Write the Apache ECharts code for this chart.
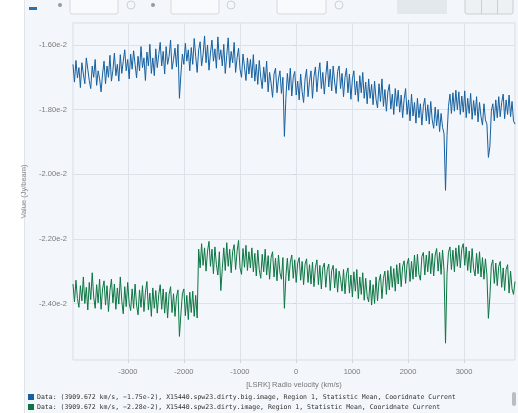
<!DOCTYPE html>
<html>
<head>
<meta charset="utf-8">
<script src="https://cdn.jsdelivr.net/npm/echarts@6/dist/echarts.min.js"></script>
<style>
html,body{margin:0;padding:0;background:#fff;}
#c{width:518px;height:413px;}
</style>
</head>
<body>
<div id="c"></div>
<script>
// Velocity range of the spectrum (km/s)
const velStart = -3980;
const velEnd = 3910;

// Tick values
const xTicks = [-3000, -2000, -1000, 0, 1000, 2000, 3000];
const yTicks = [-0.024, -0.022, -0.020, -0.018, -0.016];

// Legend texts
const legendTexts = [
  "Data: (3909.672 km/s, \u22121.75e-2), X15440.spw23.dirty.big.image, Region 1, Statistic Mean, Cooridnate Current",
  "Data: (3909.672 km/s, \u22122.28e-2), X15440.spw23.dirty.image, Region 1, Statistic Mean, Cooridnate Current"
];

// Values are in units of 1e-5 Jy/beam
const UNIT = 1e-5;

// Blue series: X15440.spw23.dirty.big.image
const bigImage = [
-1660,-1715,-1648,-1702,-1670,-1732,-1655,-1690,-1720,-1640,-1675,-1710,-1735,-1665,-1700,-1645,-1725,-1680,-1705,-1745,
-1690,-1650,-1720,-1665,-1700,-1632,-1712,-1678,-1625,-1695,-1660,-1712,-1630,-1688,-1650,-1615,-1680,-1645,-1705,-1628,
-1675,-1618,-1660,-1702,-1635,-1680,-1605,-1670,-1640,-1710,-1622,-1665,-1598,-1688,-1640,-1695,-1612,-1670,-1630,-1592,
-1665,-1620,-1690,-1605,-1660,-1635,-1585,-1675,-1645,-1610,-1668,-1598,-1765,-1690,-1628,-1660,-1595,-1650,-1615,-1680,
-1608,-1660,-1580,-1635,-1685,-1615,-1590,-1665,-1630,-1572,-1655,-1600,-1678,-1625,-1585,-1650,-1612,-1672,-1575,-1645,
-1615,-1665,-1598,-1688,-1632,-1578,-1670,-1620,-1655,-1592,-1685,-1640,-1610,-1675,-1700,-1628,-1668,-1710,-1640,-1690,
-1645,-1702,-1630,-1712,-1660,-1722,-1648,-1700,-1735,-1668,-1715,-1650,-1745,-1685,-1718,-1762,-1690,-1672,-1748,-1705,
-1680,-1750,-1700,-1883,-1765,-1688,-1740,-1672,-1758,-1700,-1682,-1755,-1712,-1770,-1690,-1745,-1778,-1705,-1675,-1760,
-1712,-1680,-1765,-1698,-1668,-1745,-1690,-1655,-1735,-1685,-1752,-1695,-1650,-1730,-1675,-1742,-1665,-1715,-1750,-1682,
-1665,-1735,-1688,-1760,-1700,-1672,-1748,-1690,-1768,-1705,-1680,-1755,-1712,-1775,-1695,-1748,-1685,-1765,-1715,-1782,
-1705,-1765,-1722,-1785,-1712,-1768,-1795,-1720,-1775,-1705,-1790,-1738,-1805,-1745,-1722,-1798,-1752,-1815,-1735,-1790,
-1740,-1808,-1755,-1825,-1768,-1735,-1815,-1770,-1835,-1752,-1820,-1778,-1842,-1765,-1825,-1782,-1848,-1790,-1765,-1835,
-1785,-1845,-1775,-1832,-1858,-1792,-1850,-1800,-1868,-1812,-1855,-1875,-2050,-1880,-1790,-1752,-1812,-1748,-1805,-1740,
-1800,-1745,-1815,-1758,-1808,-1742,-1825,-1765,-1812,-1750,-1830,-1772,-1818,-1760,-1838,-1778,-1822,-1848,-1782,-1832,
-1845,-1948,-1915,-1805,-1782,-1835,-1770,-1825,-1760,-1822,-1778,-1752,-1828,-1770,-1815,-1755,-1822,-1775,-1835,-1845
];

// Green series: X15440.spw23.dirty.image
const dirtyImage = [
-2340,-2395,-2328,-2385,-2412,-2345,-2392,-2318,-2400,-2350,-2420,-2335,-2388,-2305,-2380,-2415,-2342,-2398,-2325,-2418,
-2355,-2330,-2405,-2345,-2425,-2360,-2325,-2398,-2340,-2418,-2352,-2402,-2318,-2392,-2432,-2348,-2410,-2335,-2400,-2422,
-2355,-2415,-2340,-2405,-2435,-2358,-2412,-2345,-2425,-2365,-2332,-2420,-2368,-2440,-2352,-2415,-2360,-2430,-2372,-2342,
-2418,-2355,-2430,-2365,-2445,-2372,-2348,-2428,-2370,-2440,-2380,-2358,-2502,-2432,-2370,-2355,-2438,-2375,-2450,-2365,
-2428,-2362,-2440,-2375,-2445,-2232,-2290,-2215,-2282,-2228,-2300,-2238,-2208,-2285,-2232,-2308,-2225,-2280,-2312,-2240,
-2360,-2292,-2228,-2298,-2212,-2285,-2232,-2305,-2240,-2218,-2295,-2238,-2205,-2290,-2310,-2230,-2288,-2220,-2298,-2240,
-2290,-2228,-2302,-2245,-2315,-2235,-2295,-2322,-2248,-2302,-2232,-2312,-2252,-2325,-2258,-2240,-2318,-2260,-2330,-2250,
-2305,-2325,-2258,-2415,-2318,-2260,-2330,-2272,-2250,-2322,-2265,-2335,-2275,-2258,-2328,-2270,-2342,-2278,-2262,-2335,
-2280,-2340,-2272,-2348,-2288,-2265,-2342,-2282,-2355,-2290,-2275,-2350,-2295,-2278,-2360,-2298,-2282,-2352,-2292,-2365,
-2300,-2325,-2362,-2295,-2370,-2308,-2290,-2368,-2312,-2380,-2302,-2362,-2295,-2385,-2318,-2372,-2305,-2390,-2322,-2378,
-2395,-2328,-2405,-2342,-2400,-2318,-2392,-2332,-2310,-2385,-2322,-2300,-2372,-2298,-2358,-2285,-2350,-2292,-2362,-2280,
-2340,-2275,-2348,-2285,-2268,-2338,-2278,-2260,-2332,-2270,-2325,-2250,-2318,-2248,-2310,-2328,-2255,-2242,-2312,-2250,
-2302,-2238,-2308,-2245,-2315,-2250,-2230,-2300,-2242,-2310,-2235,-2298,-2523,-2308,-2242,-2225,-2295,-2235,-2302,-2228,
-2285,-2220,-2290,-2230,-2215,-2282,-2225,-2298,-2238,-2305,-2230,-2292,-2315,-2245,-2308,-2240,-2318,-2258,-2325,-2262,
-2312,-2446,-2380,-2282,-2265,-2338,-2275,-2345,-2285,-2270,-2350,-2290,-2360,-2295,-2280,-2368,-2300,-2355,-2372,-2332
];

const BLUE = '#16609f';
const GREEN = '#0c7643';
const FONT = 'Liberation Sans, Arial, sans-serif';

function toPairs(vals) {
  const step = (velEnd - velStart) / (vals.length - 1);
  return vals.map((v, i) => [velStart + i * step, v * UNIT]);
}

const chart = echarts.init(document.getElementById('c'), null, {renderer: 'canvas'});

const option = {
  animation: false,
  backgroundColor: 'transparent',
  grid: {
    left: 73, right: 3, top: 23, bottom: 53,
    show: true, borderColor: '#d9dfe6', borderWidth: 1, backgroundColor: 'transparent'
  },
  xAxis: {
    type: 'value',
    min: velStart, max: velEnd,
    name: '[LSRK] Radio velocity (km/s)',
    nameLocation: 'middle',
    nameGap: 19,
    nameTextStyle: {color: '#777', fontSize: 7.5, fontFamily: FONT},
    axisLine: {show: false},
    axisTick: {show: true, customValues: xTicks, length: 3, lineStyle: {color: '#d0d6de'}},
    axisLabel: {customValues: xTicks, formatter: v => String(v), color: '#7a7a7a', fontSize: 7.5, margin: 8,
      fontFamily: FONT},
    splitLine: {show: true, lineStyle: {color: '#dce2e9', width: 1}}
  },
  yAxis: {
    type: 'value',
    min: -0.02575, max: -0.01532,
    name: 'Value (Jy/beam)',
    nameLocation: 'middle',
    nameGap: 40,
    nameTextStyle: {color: '#8a8a8a', fontSize: 7.5, fontFamily: FONT},
    axisLine: {show: false},
    axisTick: {show: true, customValues: yTicks, length: 3, lineStyle: {color: '#d0d6de'}},
    axisLabel: {customValues: yTicks, formatter: v => Number(v).toExponential(2), color: '#7a7a7a',
      fontSize: 7.5, margin: 6, fontFamily: FONT},
    splitLine: {show: true, lineStyle: {color: '#dce2e9', width: 1}}
  },
  series: [
    {
      name: 'big', type: 'line', data: toPairs(bigImage), showSymbol: false, symbol: 'none',
      lineStyle: {color: BLUE, width: 1}, itemStyle: {color: BLUE}, z: 3
    },
    {
      name: 'dirty', type: 'line', data: toPairs(dirtyImage), showSymbol: false, symbol: 'none',
      lineStyle: {color: GREEN, width: 1}, itemStyle: {color: GREEN}, z: 3
    }
  ],
  graphic: [
    {type: 'rect', shape: {x: 24, y: 0, width: 494, height: 413}, style: {fill: '#f3f6fa'}, z: -10, silent: true},
    {type: 'line', shape: {x1: 24.5, y1: 0, x2: 24.5, y2: 413}, style: {stroke: '#dfe4ea', lineWidth: 1}, z: -9},
    {type: 'rect', shape: {x: 29, y: 7, width: 8, height: 3}, style: {fill: '#2b6fad'}, z: 5},
    {type: 'circle', shape: {cx: 60, cy: 5, r: 2}, style: {fill: '#999'}, z: 5},
    {type: 'rect', shape: {x: 70, y: -4, width: 48, height: 18, r: 2}, style: {fill: '#f8fafc', stroke: '#d4d9df'}, z: 5},
    {type: 'circle', shape: {cx: 131, cy: 5, r: 4}, style: {fill: '#f5f7fa', stroke: '#ccd2d8'}, z: 5},
    {type: 'circle', shape: {cx: 153, cy: 5, r: 2}, style: {fill: '#999'}, z: 5},
    {type: 'rect', shape: {x: 171, y: -4, width: 48, height: 18, r: 2}, style: {fill: '#f8fafc', stroke: '#d4d9df'}, z: 5},
    {type: 'circle', shape: {cx: 231, cy: 5, r: 4}, style: {fill: '#f5f7fa', stroke: '#ccd2d8'}, z: 5},
    {type: 'rect', shape: {x: 277, y: -4, width: 49, height: 18, r: 2}, style: {fill: '#f8fafc', stroke: '#d4d9df'}, z: 5},
    {type: 'circle', shape: {cx: 339, cy: 5, r: 4}, style: {fill: '#f5f7fa', stroke: '#ccd2d8'}, z: 5},
    {type: 'rect', shape: {x: 397, y: -4, width: 50, height: 18}, style: {fill: '#e3e8ed'}, z: 5},
    {type: 'rect', shape: {x: 465, y: -4, width: 48, height: 18, r: 2}, style: {fill: '#eef1f4', stroke: '#c9cfd6'}, z: 5},
    {type: 'line', shape: {x1: 481.5, y1: 0, x2: 481.5, y2: 14}, style: {stroke: '#c9cfd6'}, z: 6},
    {type: 'line', shape: {x1: 497.5, y1: 0, x2: 497.5, y2: 14}, style: {stroke: '#c9cfd6'}, z: 6},
    {type: 'rect', shape: {x: 28, y: 394, width: 6, height: 6}, style: {fill: BLUE}, z: 5},
    {type: 'text', x: 37, y: 397, style: {text: legendTexts[0], fill: '#333', fontSize: 6.5,
      fontFamily: 'DejaVu Sans Mono, Liberation Mono, monospace', verticalAlign: 'middle'}, z: 5},
    {type: 'rect', shape: {x: 28, y: 404, width: 6, height: 6}, style: {fill: GREEN}, z: 5},
    {type: 'text', x: 37, y: 407, style: {text: legendTexts[1], fill: '#333', fontSize: 6.5,
      fontFamily: 'DejaVu Sans Mono, Liberation Mono, monospace', verticalAlign: 'middle'}, z: 5},
    {type: 'rect', shape: {x: 512, y: 392, width: 4, height: 14, r: 2}, style: {fill: '#b9bec4'}, z: 5}
  ]
};
chart.setOption(option);
</script>
</body>
</html>
